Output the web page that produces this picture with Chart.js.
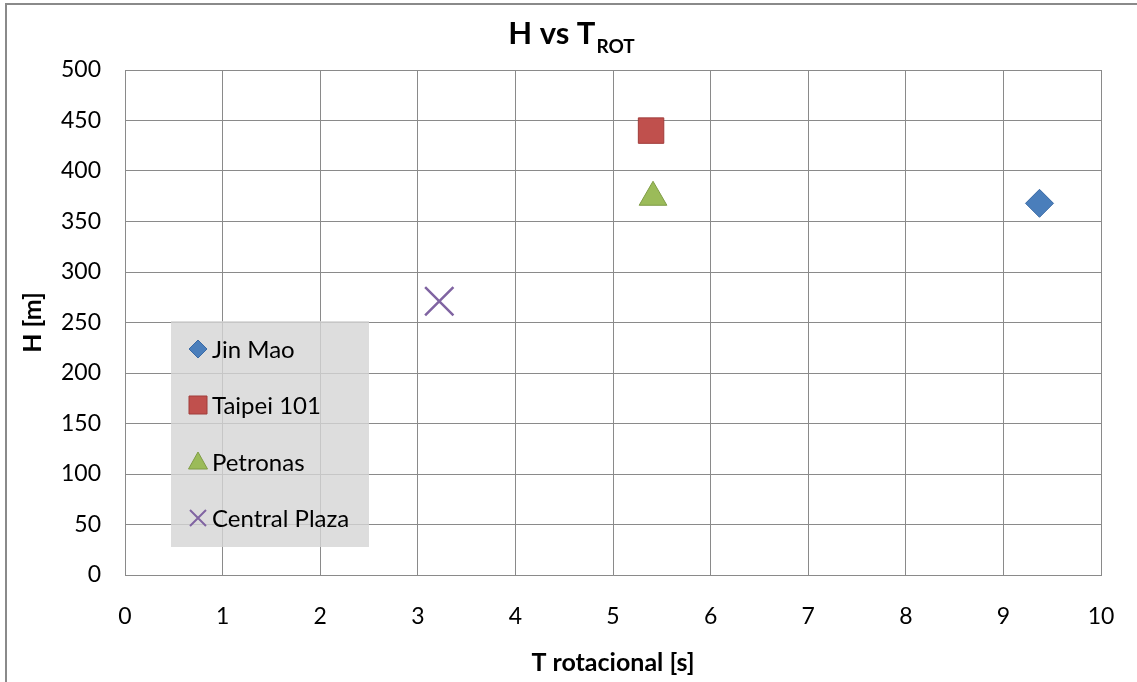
<!DOCTYPE html>
<html>
<head>
<meta charset="utf-8">
<script src="https://cdn.jsdelivr.net/npm/chart.js@4.4.0/dist/chart.umd.min.js"></script>
<style>
  body { margin: 0; background: #fff; }
  canvas { display: block; }
</style>
</head>
<body>
<canvas id="chart" width="1137" height="682"></canvas>
<script>
// data
const buildings = ['Jin Mao', 'Taipei 101', 'Petronas', 'Central Plaza'];
const tRot = [9.37, 5.39, 5.41, 3.22];   // s
const height = [368, 440, 374, 271];    // m
const colors = ['#4a7ebb', '#c0504d', '#9bbb59', '#8064a2'];
const borders = ['#3a6aa5', '#a03c3a', '#7f9c45', '#8064a2'];
const styles = ['rectRot', 'rect', 'triangle', 'crossRot'];
const radii = [14, 18, 16, 20];

const FONT = 'Lato, "Open Sans", sans-serif';

const datasets = buildings.map((name, i) => ({
    label: name,
    data: [{ x: tRot[i], y: height[i] }],
    pointStyle: styles[i],
    pointRadius: radii[i],
    pointHoverRadius: radii[i],
    backgroundColor: colors[i],
    borderColor: borders[i],
    borderWidth: styles[i] === 'crossRot' ? 2.5 : 1
}));

// title with subscript, outer frame and the grey legend box
const decorPlugin = {
    id: 'decor',
    beforeDraw(chart) {
        const ctx = chart.ctx;
        ctx.save();
        ctx.strokeStyle = '#8a8a8a';
        ctx.lineWidth = 2;
        ctx.strokeRect(6, 4, 1300, 900);
        ctx.restore();
    },
    afterDatasetsDraw(chart) {
        const ctx = chart.ctx;
        ctx.save();
        // title
        ctx.fillStyle = '#000';
        ctx.textBaseline = 'alphabetic';
        ctx.font = 'bold 31px ' + FONT;
        const main = 'H vs T';
        const wMain = ctx.measureText(main).width;
        ctx.font = 'bold 19px ' + FONT;
        const wSub = ctx.measureText('ROT').width;
        const x0 = 571 - (wMain + wSub) / 2;
        ctx.font = 'bold 31px ' + FONT;
        ctx.fillText(main, x0, 44);
        ctx.font = 'bold 19px ' + FONT;
        ctx.fillText('ROT', x0 + wMain + 1, 53);

        // legend
        ctx.fillStyle = 'rgba(212,212,212,0.8)';
        ctx.fillRect(171, 321, 198, 226);
        const rowY = [349, 405, 462, 518];
        buildings.forEach((name, i) => {
            const cx = 198, cy = rowY[i];
            ctx.fillStyle = colors[i];
            ctx.strokeStyle = borders[i];
            ctx.lineWidth = 1;
            ctx.beginPath();
            if (styles[i] === 'rectRot') {
                ctx.moveTo(cx, cy - 9); ctx.lineTo(cx + 9, cy);
                ctx.lineTo(cx, cy + 9); ctx.lineTo(cx - 9, cy);
                ctx.closePath(); ctx.fill(); ctx.stroke();
            } else if (styles[i] === 'rect') {
                ctx.rect(cx - 9, cy - 9, 18, 18); ctx.fill(); ctx.stroke();
            } else if (styles[i] === 'triangle') {
                ctx.moveTo(cx, cy - 10); ctx.lineTo(cx + 9.5, cy + 7);
                ctx.lineTo(cx - 9.5, cy + 7); ctx.closePath(); ctx.fill(); ctx.stroke();
            } else {
                ctx.lineWidth = 2;
                ctx.moveTo(cx - 8, cy - 8); ctx.lineTo(cx + 8, cy + 8);
                ctx.moveTo(cx + 8, cy - 8); ctx.lineTo(cx - 8, cy + 8);
                ctx.stroke();
            }
            ctx.fillStyle = '#000';
            ctx.font = '24px ' + FONT;
            ctx.textBaseline = 'middle';
            ctx.fillText(name, 212, cy + 1);
        });
        ctx.restore();
    }
};

new Chart(document.getElementById('chart'), {
    type: 'scatter',
    data: { datasets: datasets },
    options: {
        responsive: false,
        devicePixelRatio: 1,
        animation: false,
        layout: { padding: { top: 70, right: 36, bottom: 0, left: 0 } },
        plugins: {
            legend: { display: false },
            title: { display: false },
            tooltip: { enabled: false }
        },
        scales: {
            x: {
                type: 'linear',
                min: 0,
                max: 10,
                ticks: { stepSize: 1, color: '#000', padding: 28, font: { family: FONT, size: 23 } },
                grid: { color: '#8a8a8a', drawTicks: false, tickLength: 0 },
                border: { color: '#8a8a8a' },
                title: {
                    display: true,
                    text: 'T rotacional [s]',
                    color: '#000',
                    font: { family: FONT, size: 25, weight: 'bold' },
                    padding: { top: 0, bottom: 4 }
                },
                afterFit(scale) {
                    scale.height = 107;
                    scale.paddingLeft = 0;
                    scale.paddingRight = 0;
                }
            },
            y: {
                type: 'linear',
                min: 0,
                max: 500,
                ticks: { stepSize: 50, color: '#000', padding: 24, font: { family: FONT, size: 23 } },
                grid: { color: '#8a8a8a', drawTicks: false, tickLength: 0 },
                border: { color: '#8a8a8a' },
                title: {
                    display: true,
                    text: 'H [m]',
                    color: '#000',
                    font: { family: FONT, size: 25, weight: 'bold' },
                    padding: { top: 18, bottom: 0 }
                },
                afterFit(scale) {
                    scale.width = 125;
                    scale.paddingTop = 0;
                    scale.paddingBottom = 0;
                }
            }
        }
    },
    plugins: [decorPlugin]
});
</script>
</body>
</html>
